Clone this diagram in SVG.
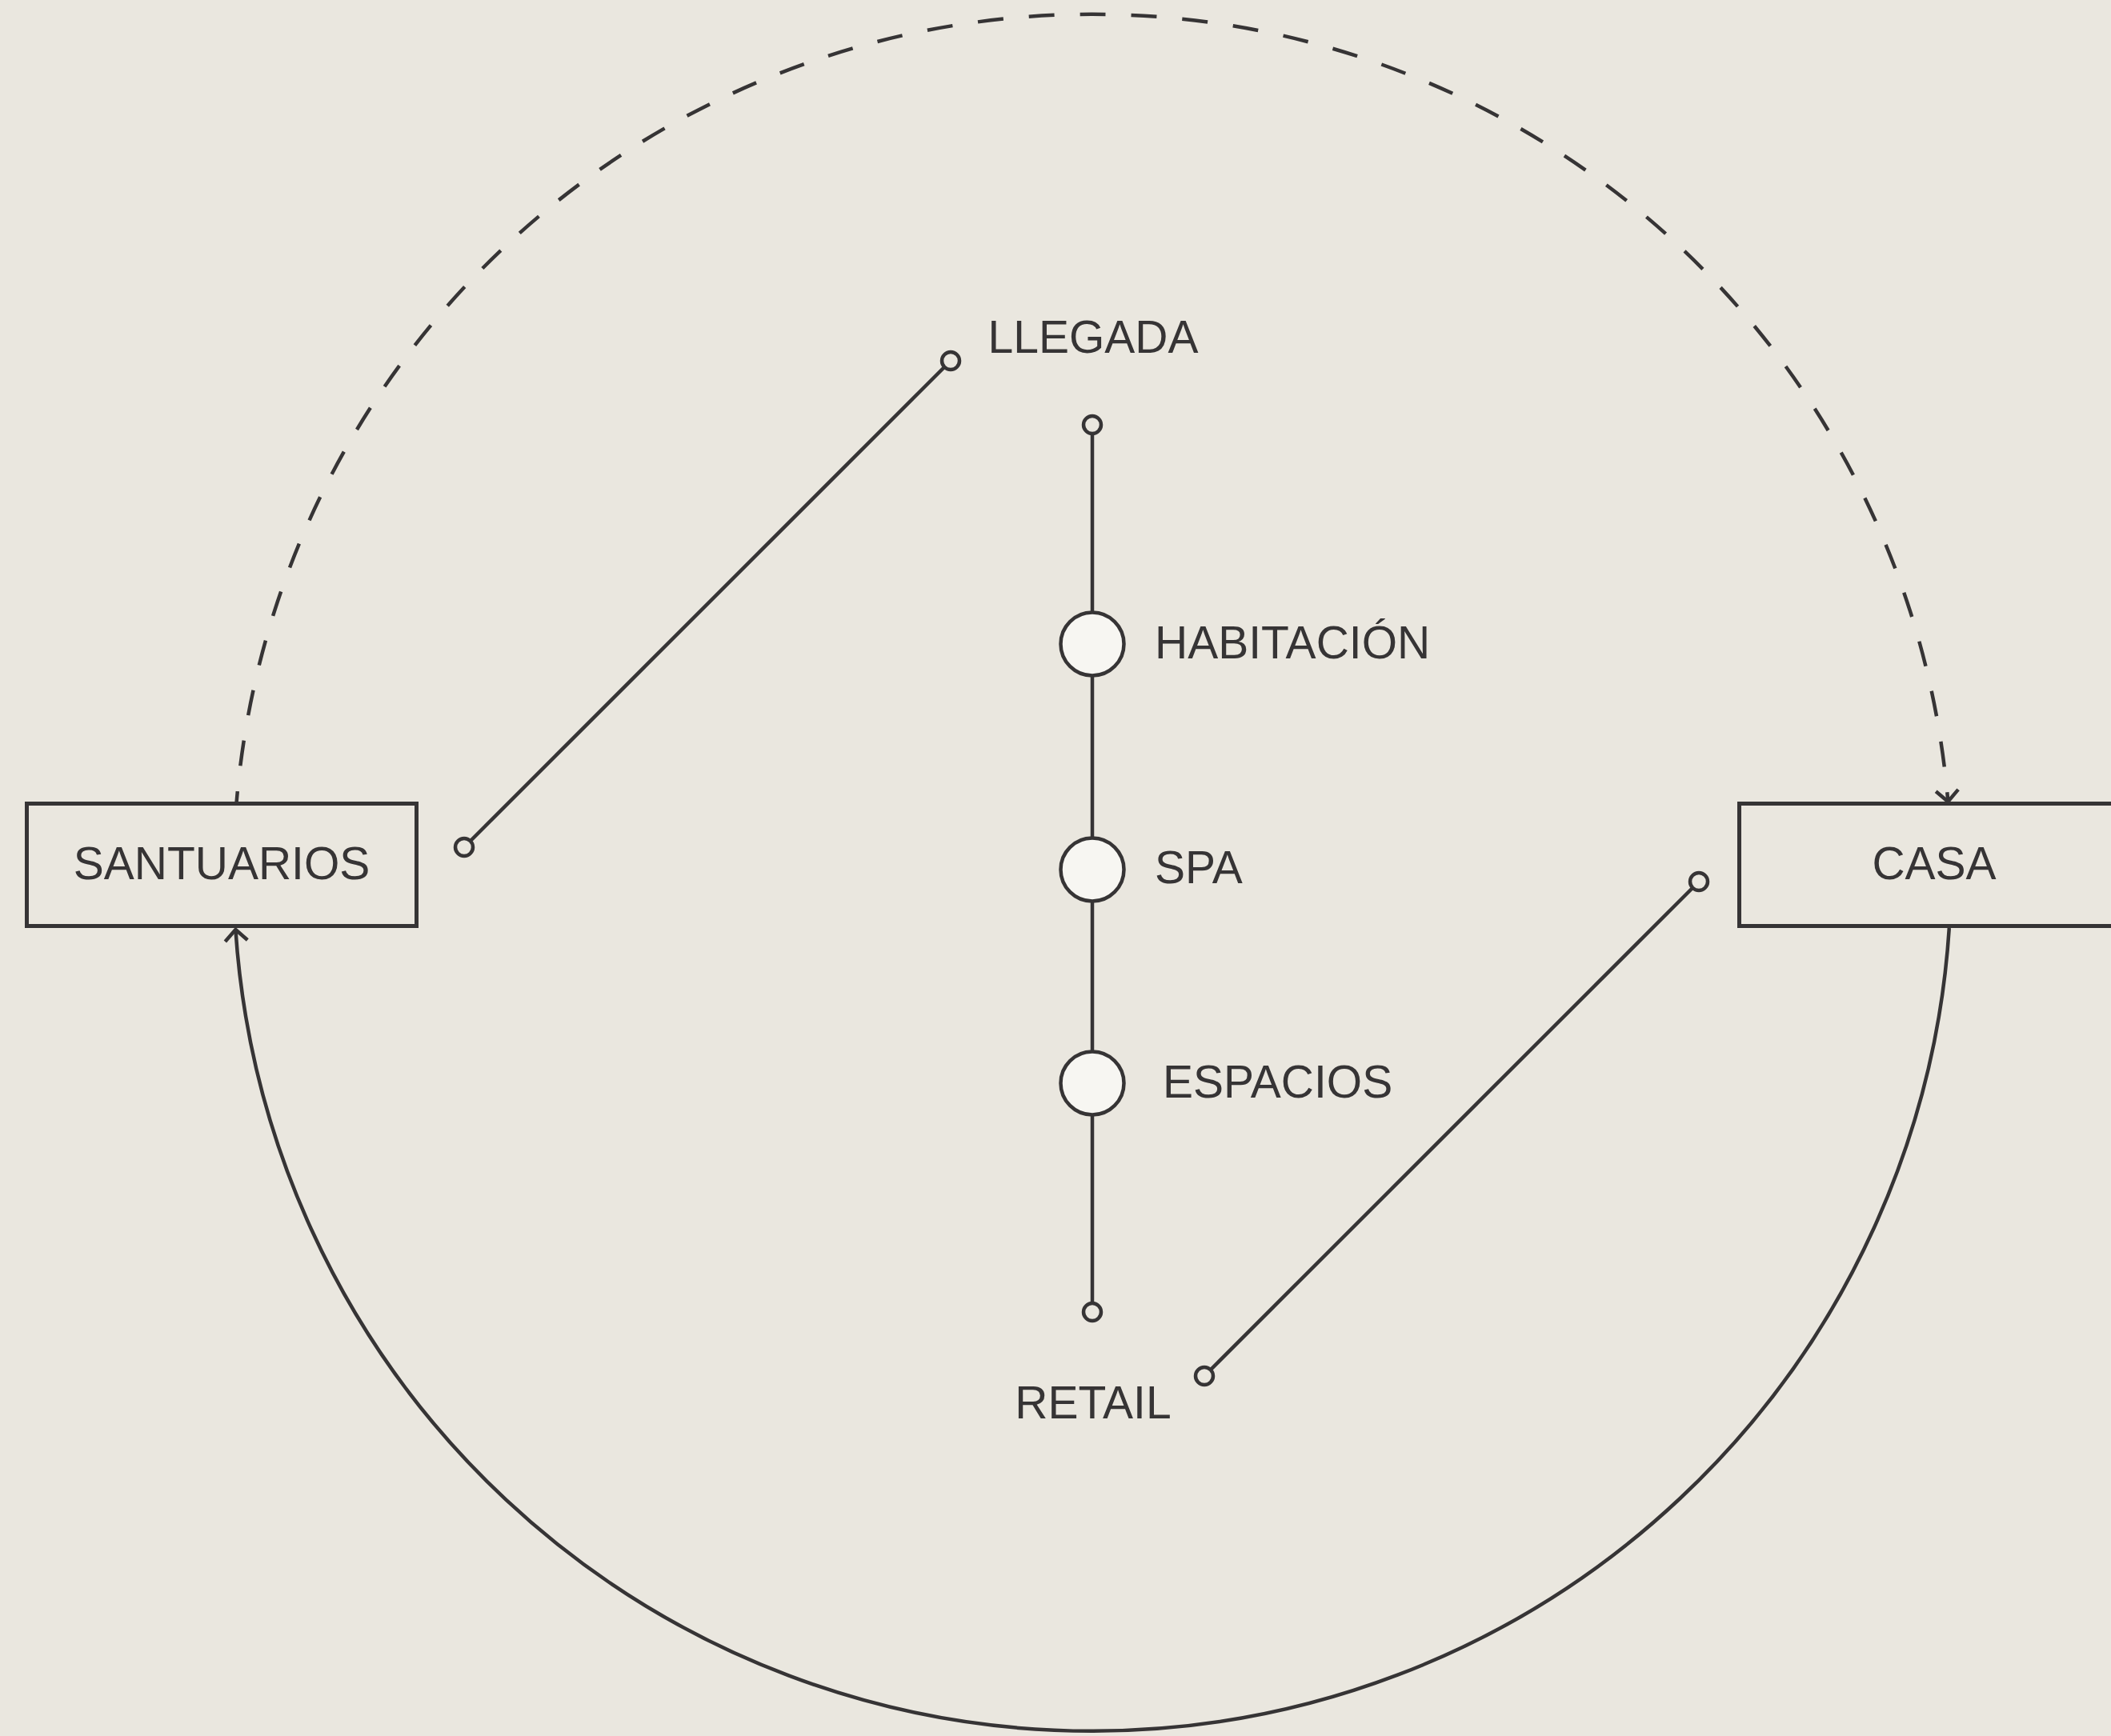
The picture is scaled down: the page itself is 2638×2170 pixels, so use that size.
<svg xmlns="http://www.w3.org/2000/svg" width="2638" height="2170" viewBox="0 0 2638 2170">
  <style>
    .ln { fill: none; stroke: #363435; stroke-width: 4.5; }
    .box { fill: #EAE7DF; stroke: #363435; stroke-width: 5; }
    .dot { fill: #EAE7DF; stroke: #363435; stroke-width: 4.5; }
    .big { fill: #F7F6F2; stroke: #363435; stroke-width: 4.5; }
    .lbl { font-family: "Liberation Sans", Arial, sans-serif; font-size: 57px; fill: #363435; }
    .mid { text-anchor: middle; }
  </style>
  <defs>
    <marker id="arrow" markerUnits="userSpaceOnUse" markerWidth="40" markerHeight="40" viewBox="-20 -20 40 40" refX="0" refY="0" orient="auto">
      <path d="M -14 -14 L 0 0 L -14 14" fill="none" stroke="#363435" stroke-width="4.5"/>
    </marker>
  </defs>
  <rect x="0" y="0" width="2638" height="2170" fill="#EAE7DF"/>

  <g id="connectors">
    <path class="ln" d="M 295.5 1004 A 1073 1073 0 0 1 2434.3 1002" stroke-width="5" stroke-dasharray="32 32" stroke-dashoffset="17" marker-end="url(#arrow)"/>
    <path class="ln" d="M 2435.8 1160 A 1073 1073 0 0 1 294.4 1162" stroke-width="5" marker-end="url(#arrow)"/>
    <line class="ln" x1="1188" y1="451" x2="580" y2="1059"/>
    <line class="ln" x1="1505" y1="1720" x2="2123" y2="1102"/>
    <line class="ln" x1="1365" y1="531" x2="1365" y2="1640"/>
  </g>

  <g id="santuarios">
    <rect class="box" x="33.5" y="1004.5" width="487" height="153"/>
    <text class="lbl mid" x="277" y="1099">SANTUARIOS</text>
  </g>
  <g id="casa">
    <rect class="box" x="2173.5" y="1004.5" width="487" height="153"/>
    <text class="lbl mid" x="2417" y="1099">CASA</text>
  </g>

  <g id="llegada">
    <circle class="dot" cx="1188" cy="451" r="11"/>
    <circle class="dot" cx="1365" cy="531" r="11"/>
    <text class="lbl mid" x="1366" y="441">LLEGADA</text>
  </g>
  <g id="santuarios-port">
    <circle class="dot" cx="580" cy="1059" r="11"/>
  </g>
  <g id="habitacion">
    <circle class="big" cx="1365" cy="805" r="39.5"/>
    <text class="lbl" x="1443" y="823">HABITACIÓN</text>
  </g>
  <g id="spa">
    <circle class="big" cx="1365" cy="1087" r="39.5"/>
    <text class="lbl" x="1443" y="1104">SPA</text>
  </g>
  <g id="espacios">
    <circle class="big" cx="1365" cy="1354" r="39.5"/>
    <text class="lbl" x="1453" y="1372">ESPACIOS</text>
  </g>
  <g id="retail">
    <circle class="dot" cx="1365" cy="1640" r="11"/>
    <circle class="dot" cx="1505" cy="1720" r="11"/>
    <text class="lbl mid" x="1366" y="1773">RETAIL</text>
  </g>
  <g id="casa-port">
    <circle class="dot" cx="2123" cy="1102" r="11"/>
  </g>
</svg>
